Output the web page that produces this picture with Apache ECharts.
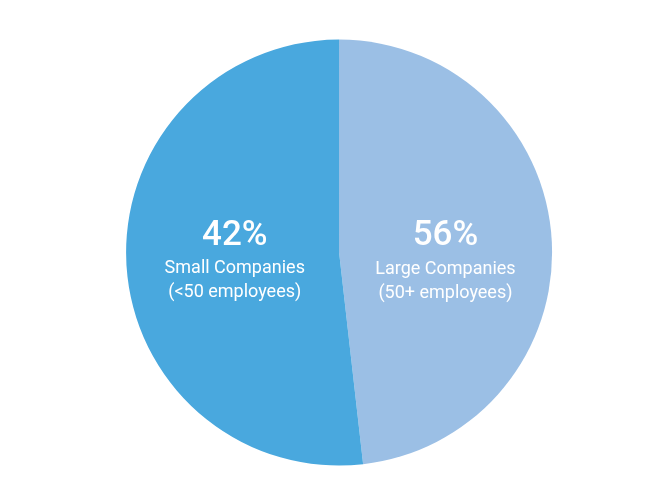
<html>
    <head>
        <meta charset="utf-8">
        <script src="https://cdn.jsdelivr.net/npm/echarts@6/dist/echarts.min.js"></script>
    </head>
    <body>
        <style>
            html, body, #main {
                width: 100%;
                height: 100%;
                margin: 0;
                background: #fff;
            }
        </style>
        <div id="main"></div>
        <script type="text/javascript">
            // slices go clockwise from 12 o'clock
            var categories = ['Large Companies', 'Small Companies'];
            var subLabels = ['(50+ employees)', '(<50 employees)'];
            // percentage printed on the chart
            var shownPercent = ['56%', '42%'];
            // share of the circle each slice actually takes in the picture
            var sliceShare = [48.2, 51.8];
            var colors = ['#9bbfe5', '#49a8de'];

            var chart = echarts.init(document.getElementById('main'));

            var data = [];
            for (var i = 0; i < categories.length; i++) {
                data.push({
                    name: categories[i],
                    value: sliceShare[i],
                    pct: shownPercent[i],
                    sub: subLabels[i],
                    itemStyle: { color: colors[i] }
                });
            }

            // nudge the inside labels so both sit on the same line
            var labelShift = [[-3, 14], [5, 1]];

            var option = {
                animation: false,
                series: [{
                    type: 'pie',
                    center: ['51.3%', '52.4%'],
                    radius: 213,
                    startAngle: 90,
                    clockwise: true,
                    itemStyle: { borderWidth: 0 },
                    emphasis: { disabled: true },
                    label: {
                        position: 'inside',
                        color: '#fff',
                        fontFamily: 'Roboto',
                        formatter: function (p) {
                            return '{pct|' + p.data.pct + '}\n{name|' + p.name + '}\n{name|' + p.data.sub + '}';
                        },
                        rich: {
                            pct: { fontSize: 35, fontWeight: 500, lineHeight: 42, color: '#fff', fontFamily: 'Roboto' },
                            name: { fontSize: 18, lineHeight: 24, color: '#fff', fontFamily: 'Roboto' }
                        }
                    },
                    labelLayout: function (params) {
                        var s = labelShift[params.dataIndex];
                        return { dx: s[0], dy: s[1] };
                    },
                    labelLine: { show: false },
                    data: data
                }]
            };
            chart.setOption(option);
            window.onresize = chart.resize;
        </script>
    </body>
</html>
